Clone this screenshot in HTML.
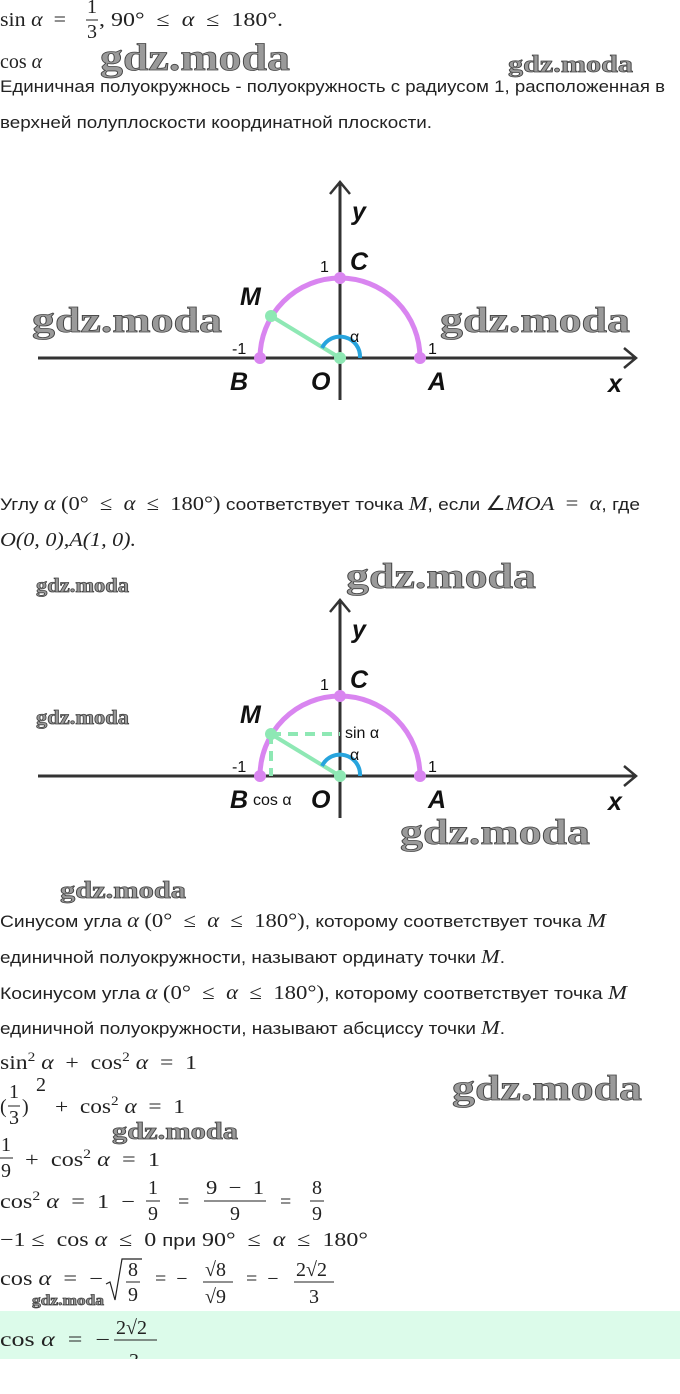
<!DOCTYPE html>
<html><head><meta charset="utf-8"><style>
html,body{margin:0;padding:0;background:#fff;}
svg{display:block;}
text{white-space:pre;}
.m{font-family:"Liberation Serif",serif;font-size:20px;fill:#222;}
.mi{font-family:"Liberation Serif",serif;font-size:20px;font-style:italic;fill:#222;}
.s{font-family:"Liberation Sans",sans-serif;font-size:17px;fill:#222;}
.w{font-family:"Liberation Serif",serif;font-weight:bold;fill:#9a9a9a;stroke:#444;stroke-width:0.8;}
.lb{font-family:"Liberation Sans",sans-serif;font-style:italic;font-weight:bold;font-size:25px;fill:#111;}
.n{font-family:"Liberation Sans",sans-serif;font-size:16px;fill:#111;}
</style></head><body>
<svg width="680" height="1394" viewBox="0 0 680 1394" xmlns="http://www.w3.org/2000/svg" xml:space="preserve">
<text class="m" x="0" y="26" textLength="66" lengthAdjust="spacingAndGlyphs">sin <tspan class="mi">α</tspan>  =</text>
<text class="m" x="87" y="13">1</text>
<line x1="86" y1="20" x2="98" y2="20" stroke="#222" stroke-width="1"/>
<text class="m" x="87" y="38">3</text>
<text class="m" x="99" y="26" textLength="184" lengthAdjust="spacingAndGlyphs">, 90°  ≤  <tspan class="mi">α</tspan>  ≤  180°.</text>
<text class="m" x="0" y="68">cos <tspan class="mi">α</tspan></text>
<text class="w" x="100" y="70" font-size="38" textLength="190" lengthAdjust="spacingAndGlyphs">gdz.moda</text>
<text class="w" x="508" y="72" font-size="24" textLength="125" lengthAdjust="spacingAndGlyphs">gdz.moda</text>
<text class="s" x="0" y="92" textLength="665" lengthAdjust="spacingAndGlyphs">Единичная полуокружнось - полуокружность с радиусом 1, расположенная в</text>
<text class="s" x="0" y="128" textLength="432" lengthAdjust="spacingAndGlyphs">верхней полуплоскости координатной плоскости.</text>

<g>
<line x1="38" y1="358" x2="634" y2="358" stroke="#333" stroke-width="3"/>
<polyline points="624,348 636,358 624,368" fill="none" stroke="#333" stroke-width="2.5"/>
<line x1="340" y1="182" x2="340" y2="400" stroke="#333" stroke-width="3"/>
<polyline points="330,194 340,182 350,194" fill="none" stroke="#333" stroke-width="2.5"/>
<path d="M260,358 A80,80 0 0 1 420,358" fill="none" stroke="#d985f0" stroke-width="5"/>
<line x1="340" y1="358" x2="271" y2="316" stroke="#8ee8b4" stroke-width="4"/>
<path d="M360,358 A20,20 0 0 0 322,348" fill="none" stroke="#27a4dd" stroke-width="4"/>
<circle cx="260" cy="358" r="6" fill="#d985f0"/>
<circle cx="420" cy="358" r="6" fill="#d985f0"/>
<circle cx="340" cy="278" r="6" fill="#d985f0"/>
<circle cx="271" cy="316" r="6" fill="#8ee8b4"/>
<circle cx="340" cy="358" r="6" fill="#8ee8b4"/>
<text class="lb" x="352" y="220">y</text>
<text class="lb" x="350" y="270">C</text>
<text class="n" x="320" y="272">1</text>
<text class="lb" x="240" y="305">M</text>
<text class="n" x="350" y="342">α</text>
<text class="n" x="232" y="354">-1</text>
<text class="n" x="428" y="354">1</text>
<text class="lb" x="230" y="390">B</text>
<text class="lb" x="311" y="390">O</text>
<text class="lb" x="428" y="390">A</text>
<text class="lb" x="608" y="392">x</text>
<text class="w" x="32" y="332" font-size="36" textLength="190" lengthAdjust="spacingAndGlyphs">gdz.moda</text>
<text class="w" x="440" y="332" font-size="36" textLength="190" lengthAdjust="spacingAndGlyphs">gdz.moda</text>
</g>

<text class="s" x="0" y="510" textLength="640" lengthAdjust="spacingAndGlyphs">Углу <tspan class="mi">α</tspan> <tspan class="m">(0°  ≤  <tspan class="mi">α</tspan>  ≤  180°)</tspan> соответствует точка <tspan class="mi">M</tspan>, если <tspan class="m">∠<tspan class="mi">MOA</tspan>  =  <tspan class="mi">α</tspan></tspan>, где</text>
<text class="mi" x="0" y="546" textLength="136" lengthAdjust="spacingAndGlyphs">O<tspan class="m">(0, 0),</tspan>A<tspan class="m">(1, 0).</tspan></text>

<text class="w" x="36" y="592" font-size="20" textLength="93" lengthAdjust="spacingAndGlyphs">gdz.moda</text>
<text class="w" x="346" y="588" font-size="36" textLength="190" lengthAdjust="spacingAndGlyphs">gdz.moda</text>
<text class="w" x="36" y="724" font-size="20" textLength="93" lengthAdjust="spacingAndGlyphs">gdz.moda</text>

<g transform="translate(0,418)">
<line x1="38" y1="358" x2="634" y2="358" stroke="#333" stroke-width="3"/>
<polyline points="624,348 636,358 624,368" fill="none" stroke="#333" stroke-width="2.5"/>
<line x1="340" y1="182" x2="340" y2="400" stroke="#333" stroke-width="3"/>
<polyline points="330,194 340,182 350,194" fill="none" stroke="#333" stroke-width="2.5"/>
<path d="M260,358 A80,80 0 0 1 420,358" fill="none" stroke="#d985f0" stroke-width="5"/>
<line x1="271" y1="316" x2="340" y2="316" stroke="#8ee8b4" stroke-width="4" stroke-dasharray="10,7"/>
<line x1="271" y1="316" x2="271" y2="358" stroke="#8ee8b4" stroke-width="4" stroke-dasharray="10,7"/>
<line x1="340" y1="358" x2="271" y2="316" stroke="#8ee8b4" stroke-width="4"/>
<path d="M360,358 A20,20 0 0 0 322,348" fill="none" stroke="#27a4dd" stroke-width="4"/>
<circle cx="260" cy="358" r="6" fill="#d985f0"/>
<circle cx="420" cy="358" r="6" fill="#d985f0"/>
<circle cx="340" cy="278" r="6" fill="#d985f0"/>
<circle cx="271" cy="316" r="6" fill="#8ee8b4"/>
<circle cx="340" cy="358" r="6" fill="#8ee8b4"/>
<text class="lb" x="352" y="220">y</text>
<text class="lb" x="350" y="270">C</text>
<text class="n" x="320" y="272">1</text>
<text class="lb" x="240" y="305">M</text>
<text class="n" x="345" y="320" font-size="17">sin α</text>
<text class="n" x="350" y="342">α</text>
<text class="n" x="232" y="354">-1</text>
<text class="n" x="428" y="354">1</text>
<text class="lb" x="230" y="390">B</text>
<text class="n" x="253" y="387" font-size="17">cos α</text>
<text class="lb" x="311" y="390">O</text>
<text class="lb" x="428" y="390">A</text>
<text class="lb" x="608" y="392">x</text>
</g>
<text class="w" x="400" y="844" font-size="36" textLength="190" lengthAdjust="spacingAndGlyphs">gdz.moda</text>
<text class="w" x="60" y="898" font-size="24" textLength="126" lengthAdjust="spacingAndGlyphs">gdz.moda</text>

<text class="s" x="0" y="927" textLength="606" lengthAdjust="spacingAndGlyphs">Синусом угла <tspan class="mi">α</tspan> <tspan class="m">(0°  ≤  <tspan class="mi">α</tspan>  ≤  180°)</tspan>, которому соответствует точка <tspan class="mi">M</tspan></text>
<text class="s" x="0" y="963" textLength="505" lengthAdjust="spacingAndGlyphs">единичной полуокружности, называют ординату точки <tspan class="mi">M</tspan>.</text>
<text class="s" x="0" y="999" textLength="627" lengthAdjust="spacingAndGlyphs">Косинусом угла <tspan class="mi">α</tspan> <tspan class="m">(0°  ≤  <tspan class="mi">α</tspan>  ≤  180°)</tspan>, которому соответствует точка <tspan class="mi">M</tspan></text>
<text class="s" x="0" y="1034" textLength="505" lengthAdjust="spacingAndGlyphs">единичной полуокружности, называют абсциссу точки <tspan class="mi">M</tspan>.</text>

<text class="m" x="0" y="1069" textLength="197" lengthAdjust="spacingAndGlyphs">sin<tspan dy="-8" font-size="13">2</tspan><tspan dy="8"> </tspan><tspan class="mi">α</tspan>  +  cos<tspan dy="-8" font-size="13">2</tspan><tspan dy="8"> </tspan><tspan class="mi">α</tspan>  =  1</text>
<text class="w" x="452" y="1100" font-size="36" textLength="190" lengthAdjust="spacingAndGlyphs">gdz.moda</text>
<text class="m" x="0" y="1113">(</text>
<text class="m" x="9" y="1098">1</text>
<line x1="8" y1="1106" x2="20" y2="1106" stroke="#222"/>
<text class="m" x="9" y="1124">3</text>
<text class="m" x="22" y="1113">)</text>
<text class="m" x="36" y="1091" font-size="13">2</text>
<text class="m" x="55" y="1113" textLength="130" lengthAdjust="spacingAndGlyphs">+  cos<tspan dy="-8" font-size="13">2</tspan><tspan dy="8"> </tspan><tspan class="mi">α</tspan>  =  1</text>
<text class="w" x="112" y="1139" font-size="24" textLength="126" lengthAdjust="spacingAndGlyphs">gdz.moda</text>
<text class="m" x="1" y="1151">1</text>
<line x1="0" y1="1158" x2="13" y2="1158" stroke="#222"/>
<text class="m" x="1" y="1177">9</text>
<text class="m" x="25" y="1166" textLength="135" lengthAdjust="spacingAndGlyphs">+  cos<tspan dy="-8" font-size="13">2</tspan><tspan dy="8"> </tspan><tspan class="mi">α</tspan>  =  1</text>

<text class="m" x="0" y="1208" textLength="135" lengthAdjust="spacingAndGlyphs">cos<tspan dy="-8" font-size="13">2</tspan><tspan dy="8"> </tspan><tspan class="mi">α</tspan>  =  1  −</text>
<text class="m" x="148" y="1194">1</text>
<line x1="146" y1="1201" x2="160" y2="1201" stroke="#222"/>
<text class="m" x="148" y="1220">9</text>
<text class="m" x="178" y="1208">=</text>
<text class="m" x="206" y="1194" textLength="58" lengthAdjust="spacingAndGlyphs">9  −  1</text>
<line x1="204" y1="1201" x2="266" y2="1201" stroke="#222"/>
<text class="m" x="230" y="1220">9</text>
<text class="m" x="280" y="1208">=</text>
<text class="m" x="312" y="1194">8</text>
<line x1="310" y1="1201" x2="324" y2="1201" stroke="#222"/>
<text class="m" x="312" y="1220">9</text>

<text class="m" x="0" y="1246" textLength="368" lengthAdjust="spacingAndGlyphs">−1 ≤  cos <tspan class="mi">α</tspan>  ≤  0 <tspan class="s">при</tspan> 90°  ≤  <tspan class="mi">α</tspan>  ≤  180°</text>

<text class="m" x="0" y="1285" textLength="103" lengthAdjust="spacingAndGlyphs">cos <tspan class="mi">α</tspan>  =  −</text>
<path d="M106,1284 L110,1282 L115,1300 L122,1259 L142,1259" fill="none" stroke="#222" stroke-width="1.2"/>
<text class="m" x="128" y="1276">8</text>
<line x1="126" y1="1282" x2="140" y2="1282" stroke="#222"/>
<text class="m" x="128" y="1301">9</text>
<text class="m" x="155" y="1285">=  −</text>
<text class="m" x="205" y="1276">√8</text>
<line x1="203" y1="1282" x2="233" y2="1282" stroke="#222"/>
<text class="m" x="205" y="1303">√9</text>
<text class="m" x="246" y="1285">=  −</text>
<text class="m" x="296" y="1276">2√2</text>
<line x1="294" y1="1282" x2="334" y2="1282" stroke="#222"/>
<text class="m" x="309" y="1303">3</text>
<text class="w" x="32" y="1305" font-size="15" textLength="72" lengthAdjust="spacingAndGlyphs">gdz.moda</text>

<rect x="0" y="1311" width="680" height="48" fill="#dcfbea"/>
<text class="m" x="0" y="1346" textLength="110" lengthAdjust="spacingAndGlyphs">cos <tspan class="mi">α</tspan>  =  −</text>
<text class="m" x="116" y="1334">2√2</text>
<line x1="114" y1="1340" x2="157" y2="1340" stroke="#222"/>
<svg x="0" y="1311" width="680" height="48"><text class="m" x="129" y="56">3</text></svg>
</svg>
</body></html>
